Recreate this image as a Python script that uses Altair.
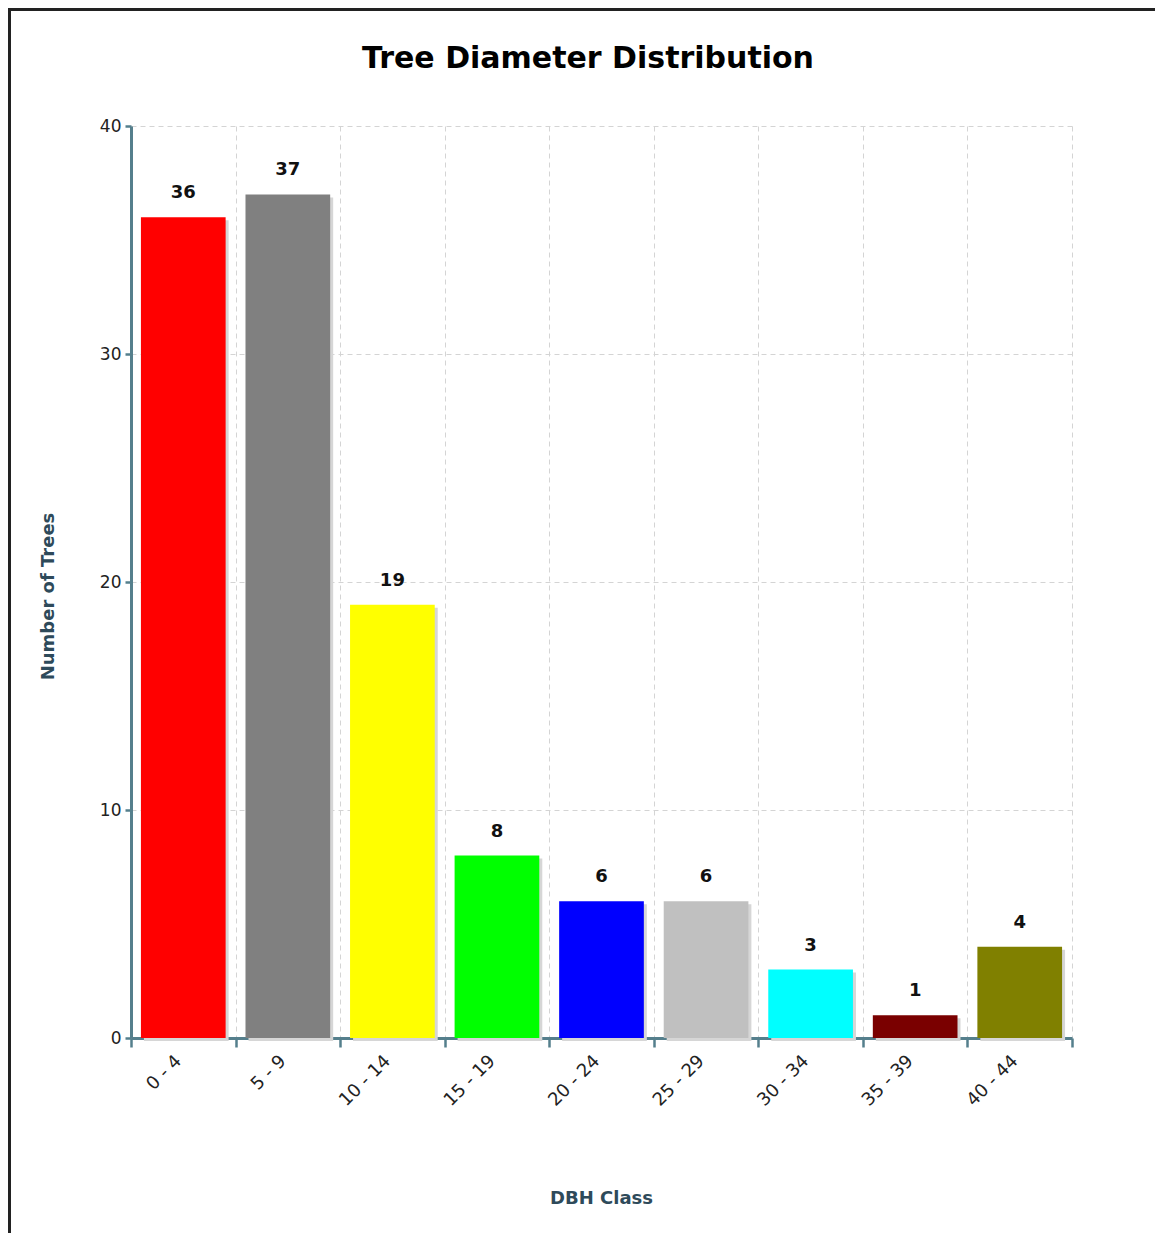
import altair as alt
import pandas as pd

categories = ["0 - 4", "5 - 9", "10 - 14", "15 - 19", "20 - 24", "25 - 29", "30 - 34", "35 - 39", "40 - 44"]
counts = [36, 37, 19, 8, 6, 6, 3, 1, 4]
colors = ["#ff0000", "#808080", "#ffff00", "#00ff00", "#0000ff", "#c0c0c0", "#00ffff", "#7a0000", "#808000"]
chart_title = ["Tree Diameter Distribution"]

df = pd.DataFrame({"cls": categories, "n": counts, "col": colors})
tdf = pd.DataFrame({"t": chart_title})

FONT = "DejaVu Sans"
AXC = "#557f8c"

x_enc = alt.X("cls:N", sort=categories,
              scale=alt.Scale(paddingInner=0, paddingOuter=0),
              axis=alt.Axis(title="DBH Class", tickBand="extent", grid=True,
                            gridDash=[5, 4], gridColor="#d4d4d4", gridWidth=1,
                            domainColor=AXC, domainWidth=3, tickColor=AXC,
                            tickWidth=2.5, tickSize=9, labelAngle=-45,
                            labelAlign="right", labelBaseline="middle",
                            labelFontSize=18, labelColor="#222222", labelPadding=11,
                            labelOffset=-5,
                            labelFont=FONT, titleFont=FONT, titleFontSize=18,
                            titleFontWeight="bold", titleColor="#2e4a5a",
                            titleX=470, titleY=160, titleBaseline="middle"))
y_enc = alt.Y("n:Q", scale=alt.Scale(domain=[0, 40]),
              axis=alt.Axis(title="Number of Trees", values=[0, 10, 20, 30, 40],
                            grid=True, gridDash=[5, 4], gridColor="#d4d4d4",
                            domainColor=AXC, domainWidth=3, tickColor=AXC,
                            tickWidth=2.5, tickSize=6, labelFontSize=17,
                            labelColor="#222222", labelPadding=4, labelFont=FONT,
                            titleFont=FONT, titleFontSize=18, titleFontWeight="bold",
                            titleColor="#2e4a5a", titleX=-83, titleY=470,
                            titleBaseline="middle", titleAlign="center", titleAngle=-90))

base = alt.Chart(df)
BW = alt.RelativeBandSize(0.81)

shadow = base.mark_bar(color="#d6d6d6", xOffset=3, yOffset=3, width=BW).encode(x=x_enc, y=y_enc)
bars = base.mark_bar(width=BW).encode(x=x_enc, y=y_enc,
                                      color=alt.Color("col:N", scale=None, legend=None))
labels = base.mark_text(font=FONT, fontSize=18, fontWeight="bold", color="#111111",
                        baseline="alphabetic", dy=-19).encode(
    x=x_enc, y=y_enc, text=alt.Text("n:Q"))

title = alt.Chart(tdf).mark_text(font=FONT, fontSize=30, fontWeight="bold",
                                 color="#000000", align="center",
                                 baseline="alphabetic").encode(
    x=alt.value(457), y=alt.value(-58), text="t:N")

frame_left = base.mark_rule(color="#222222", strokeWidth=3).encode(
    x=alt.value(-122), y=alt.value(-118), y2=alt.value(1107))
frame_top = base.mark_rule(color="#222222", strokeWidth=3).encode(
    x=alt.value(-123), x2=alt.value(1024), y=alt.value(-117))

chart = alt.layer(shadow, bars, labels, title, frame_left, frame_top).properties(
    width=941, height=912,
    autosize=alt.AutoSizeParams(type="none"),
    padding={"left": 123, "top": 118, "right": 83, "bottom": 195},
).configure_view(stroke=None)

chart.save("out.html", embed_options={"renderer": "svg", "actions": False})
